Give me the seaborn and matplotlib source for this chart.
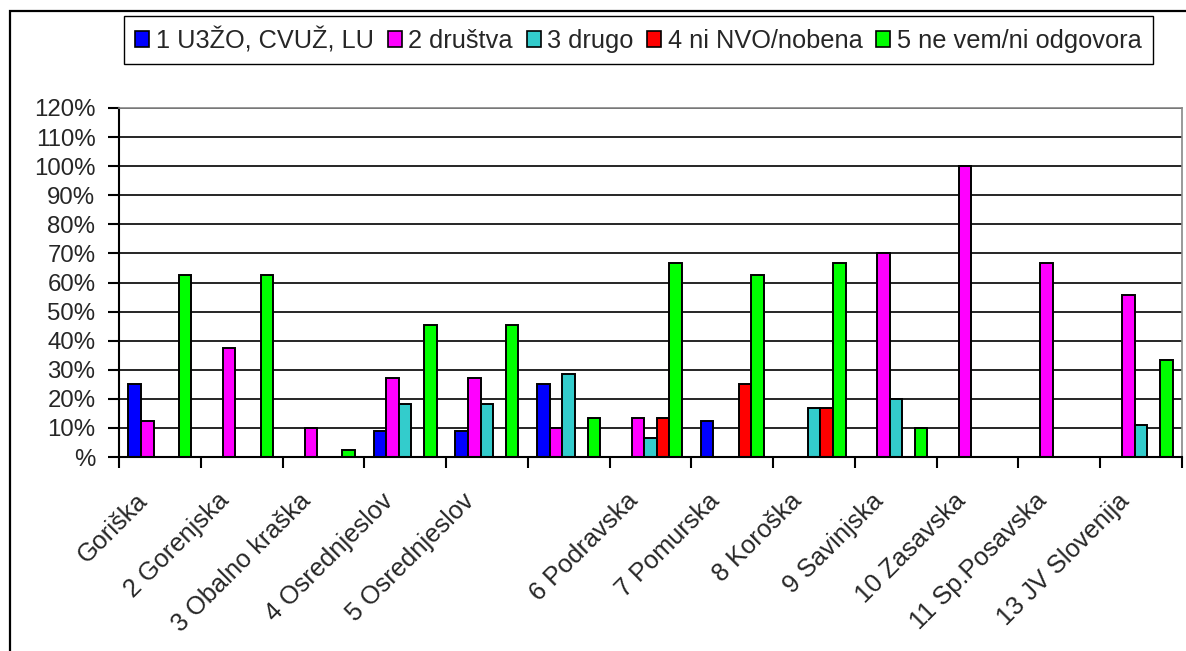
import numpy as np
import pandas as pd
import matplotlib
matplotlib.use("Agg")
import matplotlib.pyplot as plt
import matplotlib.transforms as mtransforms
from matplotlib.patches import Rectangle, Patch
import seaborn as sns

# kategorije (regije) - ena je v originalu brez oznake
regions = ["Goriška", "2 Gorenjska", "3 Obalno kraška", "4 Osrednjeslov", "5 Osrednjeslov", " ",
           "6 Podravska", "7 Pomurska", "8 Koroška", "9 Savinjska", "10 Zasavska",
           "11 Sp.Posavska", "13 JV Slovenija"]
series = ["1 U3ŽO, CVUŽ, LU", "2 društva", "3 drugo", "4 ni NVO/nobena", "5 ne vem/ni odgovora"]
colors = ["#0000FF", "#FF00FF", "#33CCCC", "#FF0000", "#00FF00"]

# deleži v %
u3zo = [25, 0, 0, 9.1, 9.1, 25, 0, 12.5, 0, 0, 0, 0, 0]
drustva = [12.5, 37.5, 10, 27.3, 27.3, 10, 13.3, 0, 0, 70, 100, 66.7, 55.6]
drugo = [0, 0, 0, 18.2, 18.2, 28.6, 6.7, 0, 16.7, 20, 0, 0, 11.1]
ni_nvo = [0, 0, 0, 0, 0, 0, 13.3, 25, 16.7, 0, 0, 0, 0]
ne_vem = [62.5, 62.5, 2.5, 45.5, 45.5, 13.3, 66.7, 62.5, 66.7, 10, 0, 0, 33.3]

yticks = list(range(0, 130, 10))
ytick_labels = ["%" if v == 0 else f"{v}%" for v in yticks]

rows = []
for name, vals in zip(series, [u3zo, drustva, drugo, ni_nvo, ne_vem]):
    for reg, v in zip(regions, vals):
        rows.append({"regija": reg, "serija": name, "delez": v})
df = pd.DataFrame(rows)

sns.set_style("white")
plt.rcParams["font.family"] = ["Liberation Sans", "DejaVu Sans"]

W, H = 1186, 651
fig = plt.figure(figsize=(W / 100, H / 100), dpi=100)

# okvir celotnega grafikona
fig.patches.append(Rectangle((10 / W, -0.1), 1.2, 1 - 11 / H + 0.1, transform=fig.transFigure,
                             fill=False, edgecolor="black", linewidth=1.6, zorder=0))

left, right, top, bottom = 119, 1182, 108, 457
ax = fig.add_axes([left / W, 1 - bottom / H, (right - left) / W, (bottom - top) / H])

sns.barplot(data=df, x="regija", y="delez", hue="serija", order=regions, hue_order=series,
            palette=colors, saturation=1, width=0.77, gap=0, edgecolor="black", linewidth=1.4,
            legend=False, ax=ax)

ax.set_xlim(-0.5, len(regions) - 0.5)
ax.set_ylim(0, 120)
ax.set_yticks(yticks)
ax.set_yticklabels(ytick_labels, fontsize=17.3)
ax.set_axisbelow(True)
ax.yaxis.grid(True, color="black", linewidth=1.2)
ax.set_xlabel("")
ax.set_ylabel("")

for side in ["left", "bottom"]:
    ax.spines[side].set_color("black")
    ax.spines[side].set_linewidth(1.5)
for side in ["top", "right"]:
    ax.spines[side].set_color("#888888")
    ax.spines[side].set_linewidth(1.2)

ax.tick_params(axis="y", direction="out", length=8, width=1.5, color="black", pad=9, left=True)
ax.set_xticks(np.arange(len(regions)))
ax.set_xticks(np.arange(-0.5, len(regions), 1), minor=True)
ax.tick_params(axis="x", which="major", length=0, pad=0)
ax.tick_params(axis="x", which="minor", direction="out", length=8, width=1.5, color="black", bottom=True)
ax.set_xticklabels(regions, fontsize=18.3, rotation=45, ha="right", va="baseline",
                   rotation_mode="anchor")
shift = mtransforms.ScaledTranslation(-11 / 100, -45 / 100, fig.dpi_scale_trans)
for lab in ax.get_xticklabels():
    lab.set_transform(lab.get_transform() + shift)

handles = [Patch(facecolor=c, edgecolor="black", linewidth=1.2) for c in colors]
fig.legend(handles, series, loc="center", bbox_to_anchor=(638.5 / W, 1 - 40 / H), ncol=5,
           fontsize=18.3, frameon=True, fancybox=False, edgecolor="black", framealpha=1,
           handlelength=0.55, handleheight=0.55, handletextpad=0.25, columnspacing=0.55,
           borderpad=0.45, borderaxespad=0)

fig.savefig("out.png", dpi=100)
